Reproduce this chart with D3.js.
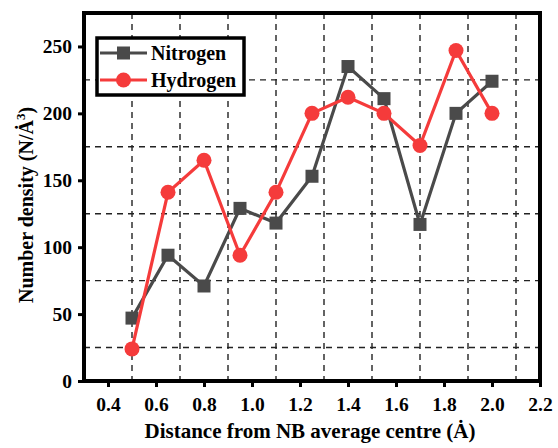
<!DOCTYPE html>
<html>
<head>
<meta charset="utf-8">
<script src="https://cdn.jsdelivr.net/npm/d3@7"></script>
<style>
  body { margin: 0; background: #fff; }
  svg { display: block; }
  text { font-family: "Liberation Serif", "Times New Roman", serif; font-weight: bold; fill: #000; }
</style>
</head>
<body>
<svg id="chart" width="558" height="448"></svg>
<script>
// distances (Å)
const distance = [0.5, 0.65, 0.8, 0.95, 1.1, 1.25, 1.4, 1.55, 1.7, 1.85, 2.0];
const nitrogen = [47, 94, 71, 129, 118, 153, 235, 211, 117, 200, 224];
const hydrogen = [24, 141, 165, 94, 141, 200, 212, 200, 176, 247, 200];

const xTicks = [0.4, 0.6, 0.8, 1.0, 1.2, 1.4, 1.6, 1.8, 2.0, 2.2];
const xGrid = [0.5, 0.7, 0.9, 1.1, 1.3, 1.5, 1.7, 1.9, 2.1];
const yTicks = [0, 50, 100, 150, 200, 250];
const yGrid = [25, 75, 125, 175, 225];

const greyCol = "#4a4a4a";
const redCol = "#f53b3b";

const margin = {left: 84, top: 13, right: 18, bottom: 67};
const width = 558 - margin.left - margin.right;
const height = 448 - margin.top - margin.bottom;

const svg = d3.select("#chart");
const g = svg.append("g").attr("transform", `translate(${margin.left},${margin.top})`);

const x = d3.scaleLinear().domain([0.3, 2.2]).range([0, width]);
const y = d3.scaleLinear().domain([0, 275]).range([height, 0]);

// dashed grid
g.selectAll(".vgrid").data(xGrid).enter().append("line")
  .attr("x1", d => x(d)).attr("x2", d => x(d))
  .attr("y1", 0).attr("y2", height)
  .attr("stroke", "#222").attr("stroke-width", 1.4)
  .attr("stroke-dasharray", "6,5");
g.selectAll(".hgrid").data(yGrid).enter().append("line")
  .attr("x1", 0).attr("x2", width)
  .attr("y1", d => y(d)).attr("y2", d => y(d))
  .attr("stroke", "#222").attr("stroke-width", 1.4)
  .attr("stroke-dasharray", "6,5");

// axes
const xAxis = g.append("g").attr("transform", `translate(0,${height})`)
  .call(d3.axisBottom(x).tickValues(xTicks).tickFormat(d3.format(".1f")).tickSize(6).tickPadding(10));
const yAxis = g.append("g")
  .call(d3.axisLeft(y).tickValues(yTicks).tickSize(6).tickPadding(6));
[xAxis, yAxis].forEach(a => {
  a.select(".domain").remove();
  a.selectAll(".tick line").attr("stroke", "#000").attr("stroke-width", 3);
  a.selectAll(".tick text").style("font-size", "19.5px").style("font-family", "Liberation Serif").style("font-weight", "bold").attr("fill", "#000");
});

// frame
g.append("rect").attr("x", 0).attr("y", 0).attr("width", width).attr("height", height)
  .attr("fill", "none").attr("stroke", "#000").attr("stroke-width", 4);

// series
function drawSeries(vals, col, shape) {
  const pts = distance.map((d, i) => [d, vals[i]]);
  g.append("path").datum(pts)
    .attr("fill", "none").attr("stroke", col).attr("stroke-width", 3.2)
    .attr("d", d3.line().x(d => x(d[0])).y(d => y(d[1])));
  if (shape === "square") {
    g.selectAll(null).data(pts).enter().append("rect")
      .attr("x", d => x(d[0]) - 6.5).attr("y", d => y(d[1]) - 6.5)
      .attr("width", 13).attr("height", 13).attr("fill", col);
  } else {
    g.selectAll(null).data(pts).enter().append("circle")
      .attr("cx", d => x(d[0])).attr("cy", d => y(d[1]))
      .attr("r", 7.5).attr("fill", col);
  }
}
drawSeries(nitrogen, greyCol, "square");
drawSeries(hydrogen, redCol, "circle");

// legend
const leg = svg.append("g").attr("transform", "translate(97,38)");
leg.append("rect").attr("width", 147).attr("height", 57)
  .attr("fill", "#fff").attr("stroke", "#000").attr("stroke-width", 3.5);
const legItems = [
  {name: "Nitrogen", col: greyCol, shape: "square", y: 15},
  {name: "Hydrogen", col: redCol, shape: "circle", y: 42}
];
legItems.forEach(it => {
  leg.append("line").attr("x1", 3).attr("x2", 50).attr("y1", it.y).attr("y2", it.y)
    .attr("stroke", it.col).attr("stroke-width", 3.2);
  if (it.shape === "square") {
    leg.append("rect").attr("x", 20).attr("y", it.y - 6.5).attr("width", 13).attr("height", 13).attr("fill", it.col);
  } else {
    leg.append("circle").attr("cx", 26.5).attr("cy", it.y).attr("r", 7.5).attr("fill", it.col);
  }
  leg.append("text").attr("x", 54).attr("y", it.y + 6.5).style("font-size", "20px").text(it.name);
});

// axis titles
svg.append("text").attr("x", 310).attr("y", 438)
  .attr("text-anchor", "middle").style("font-size", "21px")
  .text("Distance from NB average centre (Ȧ)");
const yt = svg.append("text").attr("transform", `translate(33,${margin.top + height / 2 + 8}) rotate(-90)`)
  .attr("text-anchor", "middle").style("font-size", "20px");
yt.append("tspan").text("Number density (N/Ȧ");
yt.append("tspan").attr("dy", -8).style("font-size", "13px").text("3");
yt.append("tspan").attr("dy", 8).text(")");
</script>
</body>
</html>
